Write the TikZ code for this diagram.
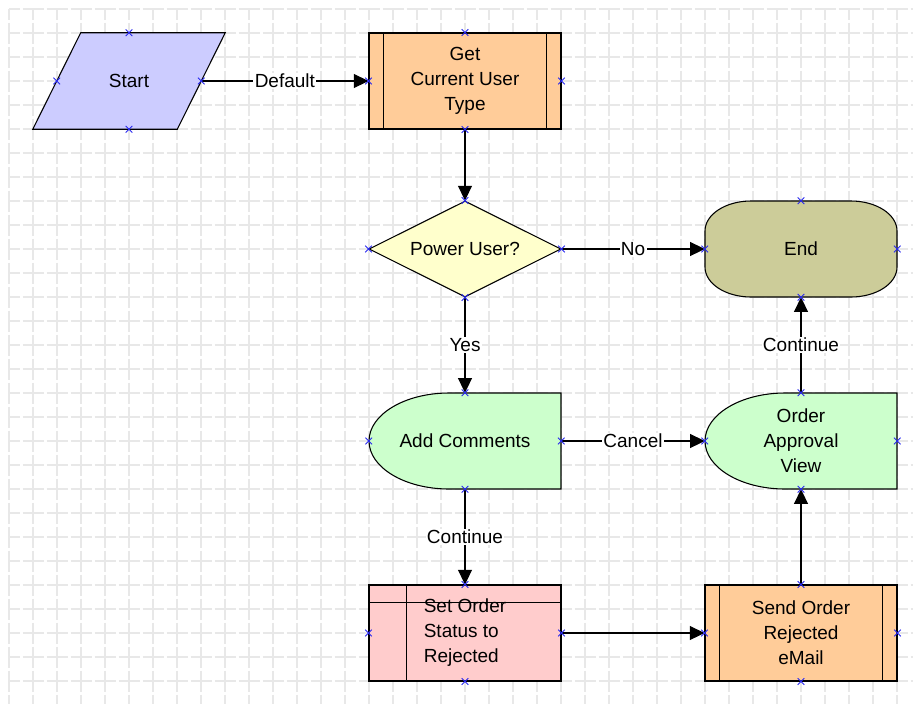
\documentclass[tikz,border=0pt]{standalone}
\usepackage{fontspec}
\setmainfont{Liberation Sans}
\usepackage{tikz}
\usetikzlibrary{shapes.geometric}
\usetikzlibrary{shapes.misc}
\usetikzlibrary{arrows.meta}
\usetikzlibrary{calc}
\usetikzlibrary{backgrounds}
\definecolor{startblue}{HTML}{CCCCFF}
\definecolor{taskorange}{HTML}{FFCC99}
\definecolor{decisionyellow}{HTML}{FFFFCC}
\definecolor{endolive}{HTML}{CCCC99}
\definecolor{viewgreen}{HTML}{CCFFCC}
\definecolor{setpink}{HTML}{FFCCCC}
\definecolor{gridgray}{HTML}{E8E8E8}
\definecolor{pinblue}{HTML}{2828F0}
\tikzstyle{flow} = [minimum width=144pt, minimum height=72pt, inner sep=0pt, align=center, font=\fontsize{14.25pt}{18.75pt}\selectfont]
\tikzstyle{task} = [flow, draw, line width=0.8pt, fill=taskorange]
\tikzstyle{outline} = [draw, line width=0.8pt]
\tikzstyle{link} = [line width=0.8pt, -{Triangle[length=11pt,width=10.5pt]}]
\tikzstyle{lbl} = [fill=white, inner sep=1pt, font=\fontsize{14.25pt}{18.75pt}\selectfont]
\tikzstyle{xmarker} = [cross out, draw=pinblue, line width=0.6pt, minimum size=5pt, inner sep=0pt, outer sep=0pt]
\tikzstyle{gridline} = [gridgray, line width=1.1pt, dash pattern=on 15.75pt off 2.25pt, dash phase=7.875pt]
% half-rounded "view" shape round a node
\newcommand{\viewshape}[1]{\draw[outline, fill=viewgreen, shift={(#1.center)}] (-16,-48) -- (96,-48) -- (96,48) -- (-16,48) .. controls (-60.2,48) and (-96,26.5) .. (-96,0) .. controls (-96,-26.5) and (-60.2,-48) .. (-16,-48) -- cycle;}

\begin{document}
\begin{tikzpicture}[x=0.75pt,y=-0.75pt]
			\useasboundingbox (0,0) rectangle (913,704);
			% nodes
			\node[flow, minimum width=108pt] (start) at (129,81) {Start};
			\node[task] (usertype) at (465,81) {Get\\Current User\\Type};
			\node[flow, diamond, draw, line width=0.8pt, fill=decisionyellow, aspect=2] (poweruser) at (465,249) {Power User?};
			\node[flow] (finish) at (801,249) {End};
			\node[flow] (addcomments) at (465,441) {Add Comments};
			\node[flow] (approvalview) at (801,441) {Order\\Approval\\View};
			\node[task, fill=setpink, align=left] (setstatus) at (465,633) {Set Order\\Status to\\Rejected};
			\node[task] (sendmail) at (801,633) {Send Order\\Rejected\\eMail};
			% grid and shape outlines behind the texts
			\begin{scope}[on background layer]
				\fill[white] (0,0) rectangle (913,704);
				\foreach \gx in {9,33,...,897} \draw[gridline] (\gx,9) -- (\gx,704);
				\foreach \gy in {9,33,...,681} \draw[gridline] (9,\gy) -- (913,\gy);
				\draw[outline, fill=startblue] ($(start.north west)+(24,0)$) -- ($(start.north east)+(24,0)$) -- ($(start.south east)+(-24,0)$) -- ($(start.south west)+(-24,0)$) -- cycle;
				\draw[outline, fill=endolive, shift={(finish.center)}] (-50,-48) -- (50,-48) .. controls (75.4,-48) and (96,-34.6) .. (96,-18) -- (96,18) .. controls (96,34.6) and (75.4,48) .. (50,48) -- (-50,48) .. controls (-75.4,48) and (-96,34.6) .. (-96,18) -- (-96,-18) .. controls (-96,-34.6) and (-75.4,-48) .. (-50,-48) -- cycle;
				\viewshape{addcomments}
				\viewshape{approvalview}
			\end{scope}
			% inner bars of the task boxes
			\draw[outline] ($(usertype.north west)+(15,0)$) -- ($(usertype.south west)+(15,0)$);
			\draw[outline] ($(usertype.north east)+(-15,0)$) -- ($(usertype.south east)+(-15,0)$);
			\draw[outline] ($(sendmail.north west)+(15,0)$) -- ($(sendmail.south west)+(15,0)$);
			\draw[outline] ($(sendmail.north east)+(-15,0)$) -- ($(sendmail.south east)+(-15,0)$);
			\draw[outline] ($(setstatus.north west)+(38,0)$) -- ($(setstatus.south west)+(38,0)$);
			\draw[outline] ($(setstatus.north west)+(0,18)$) -- ($(setstatus.north east)+(0,18)$);
			% connectors
			\draw[link] (start.east) -- node[lbl]{Default} (usertype.west);
			\draw[link] (usertype.south) -- (poweruser.north);
			\draw[link] (poweruser.east) -- node[lbl]{No} (finish.west);
			\draw[link] (poweruser.south) -- node[lbl]{Yes} (addcomments.north);
			\draw[link] (addcomments.east) -- node[lbl]{Cancel} (approvalview.west);
			\draw[link] (addcomments.south) -- node[lbl]{Continue} (setstatus.north);
			\draw[link] (setstatus.east) -- (sendmail.west);
			\draw[link] (sendmail.north) -- (approvalview.south);
			\draw[link] (approvalview.north) -- node[lbl]{Continue} (finish.south);
			% connection points
			\foreach \n in {start,usertype,poweruser,finish,addcomments,approvalview,setstatus,sendmail}
				\foreach \a in {north,south,east,west}
					\node[xmarker] at (\n.\a) {};
		\end{tikzpicture}
\end{document}
